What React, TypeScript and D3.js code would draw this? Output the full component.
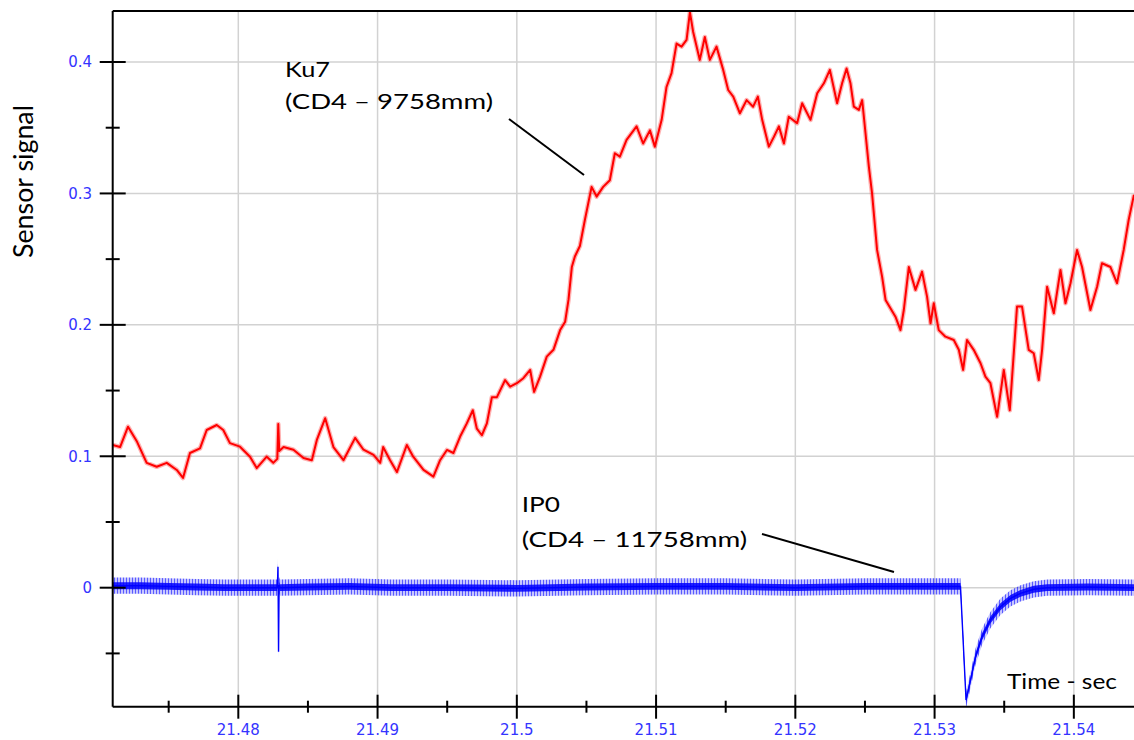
import React from "react";
import * as d3 from "d3";

// Ku7 pressure trace: [time (s), sensor signal]
const ku7Samples: [number, number][] = [
  [21.47098, 0.1086], [21.47151, 0.107], [21.47208, 0.1225], [21.47273, 0.111],
  [21.47342, 0.095], [21.47414, 0.092], [21.47486, 0.095], [21.47558, 0.0896],
  [21.47603, 0.0835], [21.47653, 0.1025], [21.47725, 0.106], [21.47773, 0.12],
  [21.47845, 0.1238], [21.47892, 0.12], [21.4794, 0.11], [21.48012, 0.1073],
  [21.48084, 0.0997], [21.48132, 0.091], [21.48204, 0.0997], [21.48251, 0.095],
  [21.4828, 0.098], [21.48287, 0.1245], [21.48294, 0.104], [21.48325, 0.107],
  [21.48396, 0.105], [21.48468, 0.0987], [21.48528, 0.097], [21.48564, 0.1124],
  [21.48624, 0.129], [21.48683, 0.107], [21.48755, 0.097], [21.48839, 0.114],
  [21.48899, 0.105], [21.48971, 0.101], [21.49019, 0.095], [21.4904, 0.107],
  [21.4909, 0.097], [21.49139, 0.088], [21.4921, 0.1086], [21.49256, 0.0997],
  [21.4933, 0.0896], [21.49401, 0.0845], [21.49449, 0.097], [21.49498, 0.1048],
  [21.49545, 0.1025], [21.49593, 0.115], [21.49641, 0.125], [21.49684, 0.135],
  [21.49713, 0.121], [21.49749, 0.116], [21.49785, 0.125], [21.49821, 0.145],
  [21.49857, 0.145], [21.49916, 0.158], [21.49952, 0.153], [21.5, 0.1556],
  [21.50047, 0.1594], [21.50096, 0.1657], [21.50124, 0.149], [21.50167, 0.1606],
  [21.50215, 0.1758], [21.50263, 0.181], [21.50311, 0.196], [21.50347, 0.2024],
  [21.50371, 0.219], [21.50395, 0.244], [21.50417, 0.252], [21.50453, 0.26],
  [21.50489, 0.28], [21.50537, 0.305], [21.50573, 0.2976], [21.5062, 0.305],
  [21.50668, 0.31], [21.50704, 0.3306], [21.5074, 0.328], [21.50788, 0.3407],
  [21.5086, 0.351], [21.50907, 0.338], [21.50956, 0.348], [21.50991, 0.3356],
  [21.5104, 0.356], [21.51075, 0.381], [21.51111, 0.3915], [21.51147, 0.414],
  [21.51183, 0.4117], [21.51219, 0.4168], [21.51243, 0.438], [21.51266, 0.423],
  [21.51314, 0.4016], [21.5135, 0.419], [21.51386, 0.4016], [21.51434, 0.4117],
  [21.51482, 0.394], [21.51518, 0.3787], [21.51554, 0.3737], [21.51602, 0.361],
  [21.5165, 0.371], [21.51697, 0.366], [21.51731, 0.3737], [21.51762, 0.356],
  [21.5181, 0.3356], [21.51846, 0.343], [21.51882, 0.351], [21.51918, 0.338],
  [21.51953, 0.3584], [21.52013, 0.3534], [21.52049, 0.3686], [21.52109, 0.356],
  [21.52157, 0.3762], [21.52205, 0.3838], [21.52248, 0.394], [21.523, 0.3686],
  [21.52336, 0.3838], [21.52368, 0.395], [21.52396, 0.3838], [21.5242, 0.366],
  [21.52456, 0.3636], [21.5248, 0.371], [21.52504, 0.3458], [21.52528, 0.3204],
  [21.52551, 0.3], [21.52587, 0.257], [21.52623, 0.2367], [21.52648, 0.219],
  [21.52683, 0.2126], [21.52719, 0.2062], [21.52755, 0.196], [21.52779, 0.2113],
  [21.52815, 0.244], [21.52863, 0.2266], [21.5291, 0.2405], [21.52946, 0.2215],
  [21.52971, 0.2012], [21.52994, 0.2164], [21.5303, 0.196], [21.53078, 0.191],
  [21.53138, 0.1885], [21.53174, 0.181], [21.53205, 0.1657], [21.53233, 0.1885],
  [21.53281, 0.181], [21.5333, 0.1708], [21.53365, 0.1606], [21.53401, 0.1556],
  [21.53449, 0.13], [21.53497, 0.1657], [21.5354, 0.135], [21.53592, 0.2139],
  [21.53628, 0.2139], [21.53676, 0.181], [21.53712, 0.1784], [21.53748, 0.158],
  [21.53772, 0.181], [21.53808, 0.229], [21.53856, 0.2088], [21.53904, 0.2418],
  [21.5394, 0.2164], [21.53976, 0.2317], [21.54023, 0.257], [21.54059, 0.244],
  [21.54119, 0.2113], [21.54167, 0.229], [21.54202, 0.2469], [21.54263, 0.244],
  [21.5431, 0.2317], [21.54358, 0.257], [21.54394, 0.28], [21.54432, 0.299],
];

// IP0 trace: [time (s), sensor signal] (centre of the noise band)
const ip0Samples: [number, number][] = [
  [21.47098, 0.0015], [21.473, 0.0015], [21.475, 0.001], [21.477, 0.0005],
  [21.479, 0.0], [21.481, 0.0], [21.4828, 0.0], [21.48285, 0.016],
  [21.48289, -0.0487], [21.48293, 0.002], [21.483, 0.0], [21.485, 0.0005],
  [21.488, 0.001], [21.491, 0.0], [21.495, 0.0], [21.5, -0.0005],
  [21.505, 0.0005], [21.51, 0.001], [21.515, 0.001], [21.52, 0.0],
  [21.525, 0.001], [21.53, 0.001], [21.53186, 0.001], [21.53226, -0.0855],
  [21.53258, -0.0703], [21.53294, -0.0525], [21.53341, -0.0373], [21.53401, -0.0246],
  [21.53473, -0.0145], [21.53545, -0.0081], [21.53617, -0.0043], [21.53712, -0.0012],
  [21.53808, 0.0], [21.541, 0.0005], [21.54432, 0.0],
];

// half-width of the IP0 noise band (core and outer fringe)
const ip0NoiseCore = 0.0026;
const ip0NoiseOuter = 0.0062;

const xMajorTicks = [21.48, 21.49, 21.5, 21.51, 21.52, 21.53, 21.54];
const xMajorLabels = ["21.48", "21.49", "21.5", "21.51", "21.52", "21.53", "21.54"];
const xMinorTicks = [21.475, 21.485, 21.495, 21.505, 21.515, 21.525, 21.535];
const yMajorTicks = [0, 0.1, 0.2, 0.3, 0.4];
const yMajorLabels = ["0", "0.1", "0.2", "0.3", "0.4"];
const yMinorTicks = [-0.05, 0.05, 0.15, 0.25, 0.35];

const W = 1134;
const H = 740;
const left = 112.7;
const right = 1134;
const top = 11;
const bottom = 706.7;

const tickFont = "'DejaVu Sans', Verdana, sans-serif";
const noteFont = "Lato, 'Open Sans', sans-serif";
const tickBlue = "#3434ff";

export default function App() {
  const x = d3.scaleLinear().domain([21.47098, 21.54432]).range([left, right]);
  const y = d3.scaleLinear().domain([-0.09055, 0.43881]).range([bottom, top]);

  const ku7Line = d3
    .line<[number, number]>()
    .x((d) => x(d[0]))
    .y((d) => y(d[1]))(ku7Samples) as string;

  const ip0Line = d3
    .line<[number, number]>()
    .x((d) => x(d[0]))
    .y((d) => y(d[1]))(ip0Samples) as string;

  const band = (half: number) =>
    d3
      .area<[number, number]>()
      .x((d) => x(d[0]))
      .y0((d) => y(d[1] - half))
      .y1((d) => y(d[1] + half))(ip0Samples) as string;

  return (
    <svg
      width={W}
      height={H}
      style={{ position: "absolute", left: 0, top: 0, background: "#fff" }}
    >
      <defs>
        <clipPath id="plot-clip">
          <rect x={left} y={top} width={right - left} height={bottom - top} />
        </clipPath>
        {/* fine vertical hatching to give the noisy fringe of the IP0 trace */}
        <pattern id="ip0-fringe" width={3} height={40} patternUnits="userSpaceOnUse">
          <rect width={3} height={40} fill="#0000ff" opacity={0.22} />
          <line x1={0.5} x2={0.5} y1={0} y2={40} stroke="#0000ff" strokeWidth={1} opacity={0.55} />
        </pattern>
      </defs>

      {/* grid */}
      <g stroke="#d2d2d2" strokeWidth={1.5}>
        {xMajorTicks.map((t) => (
          <line key={"gx" + t} x1={x(t)} x2={x(t)} y1={top} y2={bottom} />
        ))}
        {yMajorTicks.map((v) => (
          <line key={"gy" + v} x1={left} x2={right} y1={y(v)} y2={y(v)} />
        ))}
      </g>

      {/* traces */}
      <g clipPath="url(#plot-clip)">
        <path d={band(ip0NoiseOuter)} fill="url(#ip0-fringe)" />
        <path d={band(ip0NoiseCore)} fill="#0000ff" opacity={0.85} />
        <path d={ip0Line} fill="none" stroke="#0000ff" strokeWidth={1.4} />
        <path d={ku7Line} fill="none" stroke="#ff0000" strokeWidth={4.6} strokeOpacity={0.3} strokeLinejoin="round" />
        <path d={ku7Line} fill="none" stroke="#ff0000" strokeWidth={2} strokeLinejoin="round" />
      </g>

      {/* frame */}
      <line x1={left} x2={right} y1={top} y2={top} stroke="#000" strokeWidth={2} />
      <line x1={left} x2={left} y1={top} y2={bottom} stroke="#000" strokeWidth={2} />
      <line x1={left} x2={right} y1={bottom} y2={bottom} stroke="#000" strokeWidth={2} />

      {/* axis ticks */}
      <g stroke="#000" strokeWidth={2}>
        {yMajorTicks.map((v) => (
          <line key={"ty" + v} x1={left - 13} x2={left + 13} y1={y(v)} y2={y(v)} />
        ))}
        {yMinorTicks.map((v) => (
          <line key={"tym" + v} x1={left - 7} x2={left + 7} y1={y(v)} y2={y(v)} />
        ))}
        {xMajorTicks.map((t) => (
          <line key={"tx" + t} x1={x(t)} x2={x(t)} y1={bottom - 12} y2={bottom + 12} />
        ))}
        {xMinorTicks.map((t) => (
          <line key={"txm" + t} x1={x(t)} x2={x(t)} y1={bottom - 6} y2={bottom + 6} />
        ))}
      </g>

      {/* tick labels */}
      <g fontFamily={tickFont} fontSize={15} fill={tickBlue}>
        {yMajorTicks.map((v, i) => (
          <text key={"ly" + v} x={92} y={y(v)} dy="0.36em" textAnchor="end">
            {yMajorLabels[i]}
          </text>
        ))}
        {xMajorTicks.map((t, i) => (
          <text key={"lx" + t} x={x(t)} y={735} textAnchor="middle">
            {xMajorLabels[i]}
          </text>
        ))}
      </g>

      {/* axis titles */}
      <text
        transform="translate(33.3,181.5) rotate(-90) scale(1,1.36)"
        fontFamily={noteFont}
        fontSize={20.5}
        textAnchor="middle"
        textLength={153}
        lengthAdjust="spacingAndGlyphs"
        fill="#000"
      >
        Sensor signal
      </text>
      <text
        x={1007}
        y={689}
        fontFamily={noteFont}
        fontSize={20.5}
        textLength={110}
        lengthAdjust="spacingAndGlyphs"
        fill="#000"
      >
        Time - sec
      </text>

      {/* annotations */}
      <g fontFamily={noteFont} fontSize={20.5} fill="#000">
        <text x={285} y={77.3} textLength={45} lengthAdjust="spacingAndGlyphs">
          Ku7
        </text>
        <text x={285} y={109.3} textLength={208} lengthAdjust="spacingAndGlyphs">
          (CD4 – 9758mm)
        </text>
        <text x={521.7} y={511.7} textLength={38.3} lengthAdjust="spacingAndGlyphs">
          IP0
        </text>
        <text x={521.7} y={546.7} textLength={225.6} lengthAdjust="spacingAndGlyphs">
          (CD4 – 11758mm)
        </text>
      </g>
      <g stroke="#000" strokeWidth={2}>
        <line x1={509} y1={119} x2={584} y2={175} />
        <line x1={762} y1={534} x2={894} y2={572} />
      </g>
    </svg>
  );
}
